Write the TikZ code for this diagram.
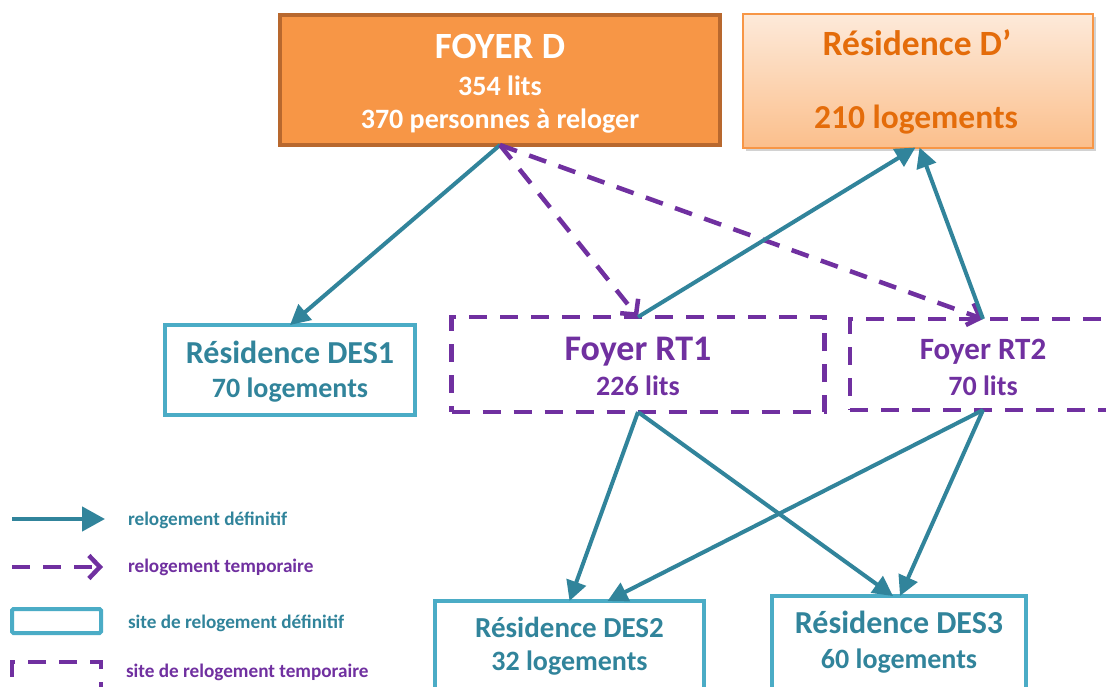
\documentclass[tikz,border=0pt]{standalone}
\usepackage{fontspec}
\setmainfont{Carlito}
\usetikzlibrary{arrows.meta,shadows}
\definecolor{tealline}{HTML}{31849B}
\definecolor{tealbox}{HTML}{4BACC6}
\definecolor{purp}{HTML}{7030A0}
\definecolor{orfill}{HTML}{F79646}
\definecolor{ordark}{HTML}{B8682E}
\definecolor{peachtop}{HTML}{FDEADA}
\definecolor{peachbot}{HTML}{FBBF8C}
\definecolor{ortext}{HTML}{E46C0A}
\newcommand\myfs[1]{\fontsize{#1}{#1}\selectfont}
\begin{document}
\begin{tikzpicture}[x=1pt,y=-1pt,
  box/.style={draw=tealbox, line width=4pt, inner sep=0pt, outer sep=0pt},
  tbox/.style={draw=purp, line width=4.5pt, dash pattern=on 18pt off 13pt, inner sep=0pt, outer sep=0pt},
  lbl/.style={anchor=base, inner sep=0pt, outer sep=0pt, font=\bfseries},
  llbl/.style={anchor=base west, inner sep=0pt, outer sep=0pt, font=\bfseries\myfs{19.2}},
  defarrow/.style={draw=tealline, line width=4pt, -{Triangle[length=20pt,width=20pt]}},
  tmparrow/.style={draw=purp, line width=4.5pt, dash pattern=on 18pt off 13pt, -{Straight Barb[length=11pt,width=23pt]}}
]
\useasboundingbox (0,0) rectangle (1106,686);
\clip (0,0) rectangle (1106,686);
\fill[white] (0,0) rectangle (1106,686);

% boxes
\node[draw=ordark, fill=orfill, line width=4pt, inner sep=0pt, outer sep=0pt,
      minimum width=440pt, minimum height=130pt] (foyerD) at (500,80) {};
\node[draw=orfill, line width=2pt, top color=peachtop, bottom color=peachbot,
      drop shadow={shadow xshift=3pt, shadow yshift=-3pt, opacity=0.35},
      inner sep=0pt, outer sep=0pt, minimum width=350pt, minimum height=134pt] (dp) at (917.5,80.5) {};
\node[box, minimum width=250pt, minimum height=90pt] (des1) at (290,370) {};
\node[tbox, minimum width=373pt, minimum height=95pt] (rt1) at (638,364.5) {};
\node[tbox, minimum width=266pt, minimum height=91pt] (rt2) at (983,364.5) {};
\node[box, minimum width=269pt, minimum height=94pt] (des2) at (569.5,648) {};
\node[box, minimum width=254pt, minimum height=96pt] (des3) at (899,644) {};

% texts
\node[lbl, text=white, font=\bfseries\myfs{37}] (tD1) at (500,58) {FOYER D};
\node[lbl, text=white, font=\bfseries\myfs{28}] (tD2) at (500,95) {354 lits};
\node[lbl, text=white, font=\bfseries\myfs{28}] (tD3) at (500,128) {370 personnes à reloger};
\node[lbl, text=ortext, font=\bfseries\myfs{35.5}] (tP1) at (917,55) {Résidence D’};
\node[lbl, text=ortext, font=\bfseries\myfs{33.5}] (tP2) at (916,128) {210 logements};
\node[lbl, text=tealline, font=\bfseries\myfs{32}] (t11) at (290,363) {Résidence DES1};
\node[lbl, text=tealline, font=\bfseries\myfs{28}] (t12) at (290,397) {70 logements};
\node[lbl, text=purp, font=\bfseries\myfs{36}] (tr11) at (638,360) {Foyer RT1};
\node[lbl, text=purp, font=\bfseries\myfs{28}] (tr12) at (638,395) {226 lits};
\node[lbl, text=purp, font=\bfseries\myfs{31}] (tr21) at (983,359) {Foyer RT2};
\node[lbl, text=purp, font=\bfseries\myfs{28}] (tr22) at (983,395) {70 lits};
\node[lbl, text=tealline, font=\bfseries\myfs{29}] (t21) at (569.5,637) {Résidence DES2};
\node[lbl, text=tealline, font=\bfseries\myfs{28}] (t22) at (569.5,670) {32 logements};
\node[lbl, text=tealline, font=\bfseries\myfs{32}] (t31) at (899,633) {Résidence DES3};
\node[lbl, text=tealline, font=\bfseries\myfs{28}] (t32) at (899,668) {60 logements};

% connectors
\draw[defarrow] (foyerD.south) -- (des1.north);
\draw[tmparrow] (foyerD.south) -- (rt1.north);
\draw[tmparrow] (foyerD.south) -- (rt2.north);
\draw[defarrow] (rt1.north) -- ([xshift=-2pt]dp.south);
\draw[defarrow] (rt2.north) -- ([xshift=2pt]dp.south);
\draw[defarrow] (rt1.south) -- (des2.north);
\draw[defarrow] (rt1.south) -- ([xshift=-6pt]des3.north);
\draw[defarrow] (rt2.south) -- ([xshift=38pt]des2.north);
\draw[defarrow] (rt2.south) -- ([xshift=1pt]des3.north);

% legend
\coordinate (la1) at (12,519);
\coordinate (la2) at (105,519);
\coordinate (lb1) at (12,567);
\coordinate (lb2) at (103,567);
\draw[draw=tealline, line width=4.5pt, -{Triangle[length=23pt,width=24pt]}] (la1) -- (la2);
\draw[tmparrow] (lb1) -- (lb2);
\draw[box, rounded corners=1.5pt] (12,609) rectangle (101,633);
\draw[tbox] (101,700) -- (101,662) -- (12,662) -- (12,700);
\node[llbl, text=tealline] (l1) at (128,525) {relogement définitif};
\node[llbl, text=purp] (l2) at (128,572) {relogement temporaire};
\node[llbl, text=tealline] (l3) at (128,628) {site de relogement définitif};
\node[llbl, text=purp] (l4) at (126,677) {site de relogement temporaire};
\end{tikzpicture}
\end{document}
